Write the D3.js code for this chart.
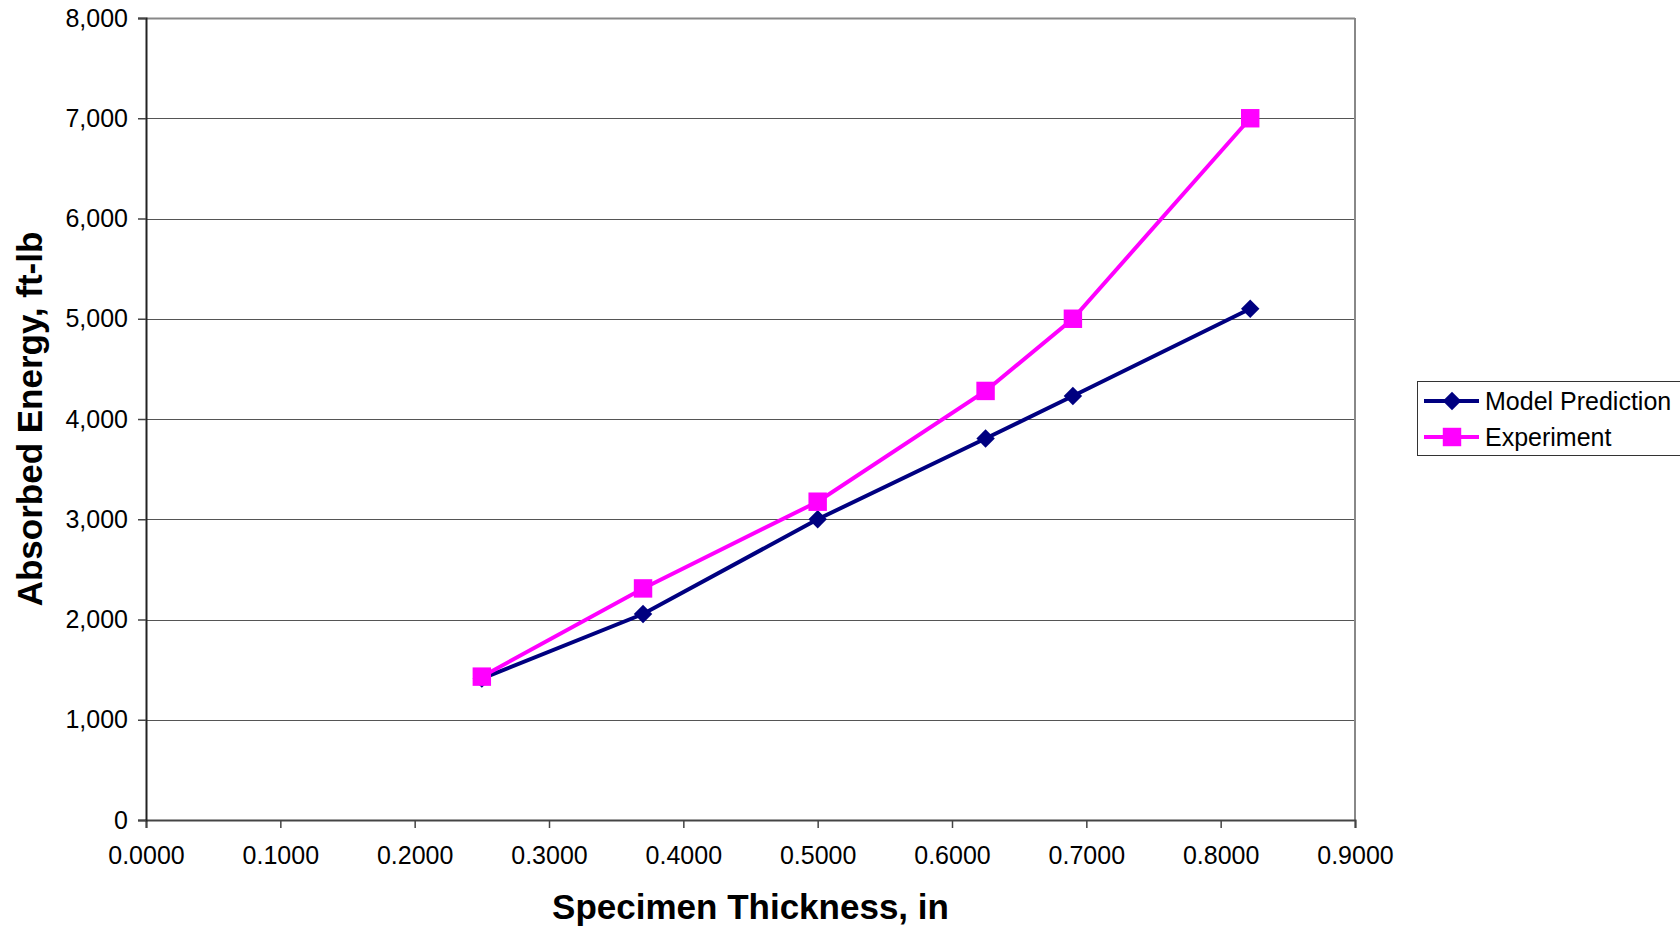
<!DOCTYPE html>
<html lang="en">
<head>
    <meta charset="UTF-8">
    <title>Absorbed Energy vs Specimen Thickness</title>
    <style>
        body { margin: 0; background: #fff; font-family: "Liberation Sans", Arial, sans-serif; }
        svg { display: block; }
        .axis-title { font-size: 35px; font-weight: bold; fill: #000; }
        .legend text { font-size: 25px; fill: #000; }
    </style>
</head>
<body>
    <script src="https://d3js.org/d3.v7.min.js"></script>
    <script>
        // thickness (in) and absorbed energy (ft-lb)
        const thickness = [0.25, 0.37, 0.50, 0.625, 0.69, 0.822];
        const modelPrediction = [1410, 2055, 3000, 3805, 4230, 5100];
        const experiment = [1430, 2310, 3175, 4280, 5000, 7000];

        const xTicks = [0, 0.1, 0.2, 0.3, 0.4, 0.5, 0.6, 0.7, 0.8, 0.9];
        const yTicks = [0, 1000, 2000, 3000, 4000, 5000, 6000, 7000, 8000];

        const series = [
            {name: "Model Prediction", values: modelPrediction, color: "#000080", marker: "diamond"},
            {name: "Experiment", values: experiment, color: "#ff00ff", marker: "square"}
        ];

        const width = 1680, height = 929;
        const margin = {left: 146, right: 325, top: 18, bottom: 109};
        const plotW = width - margin.left - margin.right;
        const plotH = height - margin.top - margin.bottom;

        const x = d3.scaleLinear().domain([0, 0.9]).range([0, plotW]);
        const y = d3.scaleLinear().domain([0, 8000]).range([plotH, 0]);

        const svg = d3.select("body").append("svg")
            .attr("width", width)
            .attr("height", height);

        const g = svg.append("g")
            .attr("transform", `translate(${margin.left},${margin.top})`);

        // horizontal gridlines
        g.append("g")
            .selectAll("line")
            .data(yTicks.slice(1, -1))
            .enter().append("line")
            .attr("x1", 0)
            .attr("x2", plotW)
            .attr("y1", d => Math.round(y(d)) + 0.5)
            .attr("y2", d => Math.round(y(d)) + 0.5)
            .attr("stroke", "#555")
            .attr("stroke-width", 1);

        // top and right border
        g.append("line")
            .attr("x1", 0).attr("x2", plotW)
            .attr("y1", 0.5).attr("y2", 0.5)
            .attr("stroke", "#888").attr("stroke-width", 2);
        g.append("line")
            .attr("x1", plotW).attr("x2", plotW)
            .attr("y1", 0).attr("y2", plotH)
            .attr("stroke", "#888").attr("stroke-width", 2);

        // axes
        const xAxis = g.append("g")
            .attr("transform", `translate(0,${plotH})`)
            .call(d3.axisBottom(x).tickValues(xTicks).tickFormat(d3.format(".4f")).tickSize(8).tickPadding(18));
        const yAxis = g.append("g")
            .call(d3.axisLeft(y).tickValues(yTicks).tickFormat(d3.format(",")).tickSize(8).tickPadding(10));

        xAxis.select(".domain").attr("stroke", "#444").attr("stroke-width", 2);
        yAxis.select(".domain").attr("stroke", "#222").attr("stroke-width", 2);
        xAxis.selectAll(".tick line").attr("stroke", "#444").attr("stroke-width", 1.5);
        yAxis.selectAll(".tick line").attr("stroke", "#444").attr("stroke-width", 1.5);
        svg.selectAll(".tick text")
            .attr("font-family", "Liberation Sans, Arial, sans-serif")
            .attr("font-size", 25)
            .attr("fill", "#000");

        // axis titles
        svg.append("text")
            .attr("class", "axis-title")
            .attr("x", margin.left + x(0.45))
            .attr("y", 919)
            .attr("text-anchor", "middle")
            .text("Specimen Thickness, in");
        svg.append("text")
            .attr("class", "axis-title")
            .attr("transform", `translate(42,${margin.top + y(4000)}) rotate(-90)`)
            .attr("text-anchor", "middle")
            .text("Absorbed Energy, ft-lb");

        const line = d3.line()
            .x((d, i) => x(thickness[i]))
            .y(d => y(d));

        const diamond = d3.symbol().type(d3.symbolSquare).size(170);
        const square = d3.symbol().type(d3.symbolSquare).size(340);

        function drawMarker(sel, s, px, py) {
            if (s.marker === "diamond") {
                sel.append("path")
                    .attr("d", diamond())
                    .attr("transform", `translate(${px},${py}) rotate(45)`)
                    .attr("fill", s.color);
            } else {
                sel.append("path")
                    .attr("d", square())
                    .attr("transform", `translate(${px},${py})`)
                    .attr("fill", s.color);
            }
        }

        series.forEach(s => {
            g.append("path")
                .datum(s.values)
                .attr("d", line)
                .attr("fill", "none")
                .attr("stroke", s.color)
                .attr("stroke-width", 4);
            const mg = g.append("g");
            s.values.forEach((v, i) => drawMarker(mg, s, x(thickness[i]), y(v)));
        });

        // legend
        const legend = svg.append("g").attr("class", "legend");
        legend.append("rect")
            .attr("x", 1417.5)
            .attr("y", 381.5)
            .attr("width", 280)
            .attr("height", 74)
            .attr("fill", "#fff")
            .attr("stroke", "#333")
            .attr("stroke-width", 1);

        series.forEach((s, i) => {
            const ly = 401 + i * 36;
            legend.append("line")
                .attr("x1", 1424).attr("x2", 1479)
                .attr("y1", ly).attr("y2", ly)
                .attr("stroke", s.color)
                .attr("stroke-width", 4);
            drawMarker(legend, s, 1452, ly);
            legend.append("text")
                .attr("x", 1485)
                .attr("y", ly + 9)
                .text(s.name);
        });
    </script>
</body>
</html>
